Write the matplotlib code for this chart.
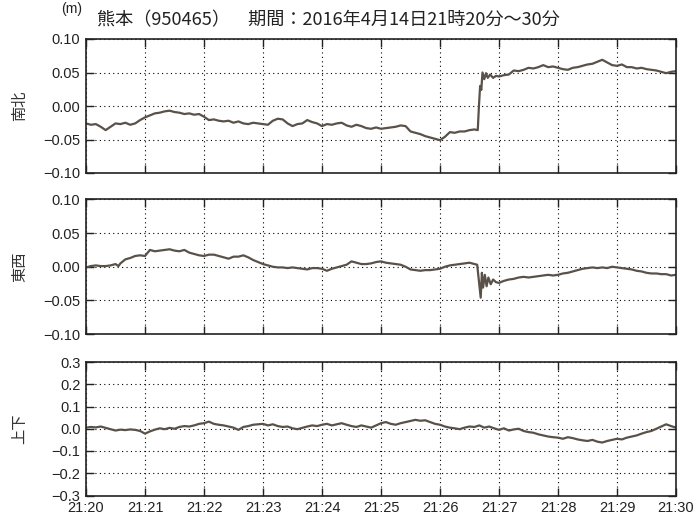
import matplotlib
matplotlib.use("Agg")
import matplotlib.pyplot as plt

plt.rcParams['font.family'] = ['Liberation Sans', 'DejaVu Sans']

# ---- data (minutes after 21:20, metres) ----
ns_t = [0, 0.083, 0.167, 0.25, 0.333, 0.417, 0.5, 0.583, 0.667, 0.75, 0.833, 0.917,
        1.0, 1.083, 1.167, 1.25, 1.333, 1.417, 1.5, 1.583, 1.667, 1.75, 1.833, 1.917,
        2.0, 2.083, 2.167, 2.25, 2.333, 2.417, 2.5, 2.583, 2.667, 2.75, 2.833, 2.917,
        3.0, 3.083, 3.167, 3.25, 3.333, 3.417, 3.5, 3.583, 3.667, 3.75, 3.833, 3.917,
        4.0, 4.083, 4.167, 4.25, 4.333, 4.417, 4.5, 4.583, 4.667, 4.75, 4.833, 4.917,
        5.0, 5.083, 5.167, 5.25, 5.333, 5.417, 5.5, 5.583, 5.667, 5.75, 5.833, 5.917,
        6.0, 6.083, 6.167, 6.25, 6.333, 6.417, 6.5, 6.583, 6.64,
        6.66, 6.68, 6.70, 6.72, 6.75, 6.78, 6.81, 6.85, 6.90, 6.95,
        7.0, 7.083, 7.167, 7.25, 7.333, 7.417, 7.5, 7.583, 7.667, 7.75, 7.833, 7.917,
        8.0, 8.083, 8.167, 8.25, 8.333, 8.417, 8.5, 8.583, 8.667, 8.75, 8.833, 8.917,
        9.0, 9.083, 9.167, 9.25, 9.333, 9.417, 9.5, 9.583, 9.667, 9.75, 9.833, 9.917, 10.0]
ns_v = [-0.026, -0.028, -0.027, -0.031, -0.036, -0.031, -0.026, -0.027, -0.025, -0.028, -0.026, -0.021,
        -0.017, -0.014, -0.011, -0.010, -0.008, -0.007, -0.009, -0.010, -0.012, -0.011, -0.013, -0.012,
        -0.016, -0.021, -0.020, -0.022, -0.023, -0.022, -0.025, -0.023, -0.026, -0.027, -0.025, -0.026,
        -0.027, -0.028, -0.022, -0.019, -0.020, -0.026, -0.030, -0.027, -0.026, -0.021, -0.024, -0.026,
        -0.030, -0.027, -0.028, -0.026, -0.025, -0.029, -0.031, -0.028, -0.030, -0.033, -0.034, -0.032,
        -0.034, -0.033, -0.032, -0.031, -0.029, -0.030, -0.038, -0.040, -0.042, -0.045, -0.047, -0.049,
        -0.051, -0.046, -0.039, -0.040, -0.038, -0.038, -0.036, -0.035, -0.036,
        0.000, 0.030, 0.024, 0.050, 0.040, 0.049, 0.042, 0.047, 0.042, 0.045,
        0.044, 0.046, 0.047, 0.053, 0.052, 0.054, 0.057, 0.056, 0.058, 0.061, 0.058, 0.059,
        0.057, 0.055, 0.054, 0.057, 0.058, 0.060, 0.062, 0.063, 0.066, 0.069, 0.065, 0.061,
        0.060, 0.062, 0.058, 0.058, 0.056, 0.057, 0.055, 0.054, 0.053, 0.051, 0.049, 0.051, 0.052]

ew_t = [0, 0.083, 0.167, 0.25, 0.333, 0.417, 0.5, 0.55, 0.583, 0.667, 0.75, 0.833, 0.917,
        1.0, 1.083, 1.167, 1.25, 1.333, 1.417, 1.5, 1.583, 1.667, 1.75, 1.833, 1.917,
        2.0, 2.083, 2.167, 2.25, 2.333, 2.417, 2.5, 2.583, 2.667, 2.75, 2.833, 2.917,
        3.0, 3.083, 3.167, 3.25, 3.333, 3.417, 3.5, 3.583, 3.667, 3.75, 3.833, 3.917,
        4.0, 4.083, 4.167, 4.25, 4.333, 4.417, 4.5, 4.583, 4.667, 4.75, 4.833, 4.917,
        5.0, 5.083, 5.167, 5.25, 5.333, 5.417, 5.5, 5.583, 5.667, 5.75, 5.833, 5.917,
        6.0, 6.083, 6.167, 6.25, 6.333, 6.417, 6.5, 6.583, 6.63,
        6.66, 6.69, 6.71, 6.73, 6.76, 6.79, 6.82, 6.86, 6.90, 6.95,
        7.0, 7.083, 7.167, 7.25, 7.333, 7.417, 7.5, 7.583, 7.667, 7.75, 7.833, 7.917,
        8.0, 8.083, 8.167, 8.25, 8.333, 8.417, 8.5, 8.583, 8.667, 8.75, 8.833, 8.917,
        9.0, 9.083, 9.167, 9.25, 9.333, 9.417, 9.5, 9.583, 9.667, 9.75, 9.833, 9.917, 10.0]
ew_v = [-0.001, 0.001, 0.002, 0.001, 0.001, 0.002, 0.004, 0.001, 0.005, 0.011, 0.013, 0.016, 0.017,
        0.016, 0.025, 0.023, 0.024, 0.025, 0.026, 0.024, 0.023, 0.025, 0.021, 0.019, 0.017,
        0.016, 0.018, 0.018, 0.016, 0.014, 0.012, 0.015, 0.015, 0.017, 0.014, 0.010, 0.007,
        0.004, 0.002, 0.000, -0.001, -0.001, -0.002, -0.001, -0.002, -0.003, -0.004, -0.002, -0.002,
        -0.003, -0.006, -0.003, -0.001, 0.001, 0.003, 0.008, 0.006, 0.004, 0.004, 0.005, 0.007,
        0.008, 0.006, 0.005, 0.004, 0.003, 0.000, -0.004, -0.005, -0.006, -0.005, -0.005, -0.004,
        -0.003, 0.000, 0.002, 0.003, 0.004, 0.005, 0.006, 0.004, 0.003,
        -0.021, -0.046, -0.009, -0.031, -0.012, -0.029, -0.016, -0.026, -0.019, -0.023,
        -0.024, -0.021, -0.019, -0.018, -0.016, -0.015, -0.016, -0.015, -0.014, -0.013, -0.012, -0.013,
        -0.012, -0.010, -0.009, -0.007, -0.005, -0.003, -0.002, -0.001, -0.002, -0.001, -0.002, 0.000,
        -0.001, -0.002, -0.003, -0.004, -0.006, -0.007, -0.009, -0.010, -0.010, -0.011, -0.011, -0.013, -0.012]

ud_t = [0, 0.083, 0.167, 0.25, 0.333, 0.417, 0.5, 0.583, 0.667, 0.75, 0.833, 0.917,
        1.0, 1.083, 1.167, 1.25, 1.333, 1.417, 1.5, 1.583, 1.667, 1.75, 1.833, 1.917,
        2.0, 2.083, 2.167, 2.25, 2.333, 2.417, 2.5, 2.583, 2.667, 2.75, 2.833, 2.917,
        3.0, 3.083, 3.167, 3.25, 3.333, 3.417, 3.5, 3.583, 3.667, 3.75, 3.833, 3.917,
        4.0, 4.083, 4.167, 4.25, 4.333, 4.417, 4.5, 4.583, 4.667, 4.75, 4.833, 4.917,
        5.0, 5.083, 5.167, 5.25, 5.333, 5.417, 5.5, 5.583, 5.667, 5.75, 5.833, 5.917,
        6.0, 6.083, 6.167, 6.25, 6.333, 6.417, 6.5, 6.583, 6.667, 6.75, 6.833, 6.917,
        7.0, 7.083, 7.167, 7.25, 7.333, 7.417, 7.5, 7.583, 7.667, 7.75, 7.833, 7.917,
        8.0, 8.083, 8.167, 8.25, 8.333, 8.417, 8.5, 8.583, 8.667, 8.75, 8.833, 8.917,
        9.0, 9.083, 9.167, 9.25, 9.333, 9.417, 9.5, 9.583, 9.667, 9.75, 9.833, 9.917, 10.0]
ud_v = [0.005, 0.008, 0.006, 0.010, 0.004, -0.002, -0.008, -0.004, -0.006, -0.003, -0.005, -0.010,
        -0.022, -0.012, -0.004, 0.002, -0.002, 0.004, 0.000, 0.008, 0.012, 0.010, 0.015, 0.022,
        0.025, 0.032, 0.022, 0.018, 0.015, 0.010, 0.005, -0.005, 0.008, 0.012, 0.018, 0.020,
        0.022, 0.015, 0.020, 0.012, 0.008, 0.010, 0.002, -0.002, 0.004, 0.010, 0.015, 0.012,
        0.018, 0.022, 0.015, 0.020, 0.025, 0.018, 0.012, 0.008, 0.015, 0.010, 0.005, 0.015,
        0.025, 0.030, 0.022, 0.018, 0.025, 0.030, 0.035, 0.040, 0.036, 0.038, 0.030, 0.022,
        0.018, 0.010, 0.005, 0.002, -0.002, 0.005, 0.010, 0.008, 0.015, 0.005, 0.010, 0.002,
        -0.005, 0.002, -0.008, -0.003, 0.000, -0.010, -0.015, -0.018, -0.025, -0.030, -0.035, -0.038,
        -0.040, -0.045, -0.038, -0.042, -0.048, -0.052, -0.055, -0.050, -0.058, -0.062, -0.055, -0.050,
        -0.045, -0.048, -0.040, -0.035, -0.030, -0.022, -0.015, -0.010, 0.000, 0.010, 0.020, 0.012, 0.005]

component_labels = ['南北', '東西', '上下']
x_tick_labels = ['21:20', '21:21', '21:22', '21:23', '21:24', '21:25',
                 '21:26', '21:27', '21:28', '21:29', '21:30']
ticks_small = [-0.10, -0.05, 0.00, 0.05, 0.10]
ticks_large = [-0.3, -0.2, -0.1, 0.0, 0.1, 0.2, 0.3]
title_text = '熊本（950465）　期間：2016年4月14日21時20分～30分'
unit_text = '(m)'

# ---- figure ----
W, H = 696, 523
fig = plt.figure(figsize=(W / 100, H / 100), dpi=100)

def frac_box(left, top, right, bottom):
    return [left / W, 1 - bottom / H, (right - left) / W, (bottom - top) / H]

boxes = [frac_box(86, 39, 676, 173), frac_box(86, 199.5, 676, 334), frac_box(86, 362, 676, 495.5)]
series = [(ns_t, ns_v), (ew_t, ew_v), (ud_t, ud_v)]
line_color = '#5a5149'
cjk = ['Noto Sans CJK JP', 'DejaVu Sans']

for i, (box, (t, v)) in enumerate(zip(boxes, series)):
    ax = fig.add_axes(box)
    ax.plot(t, v, color=line_color, lw=1.6, solid_joinstyle='round')
    ax.set_xlim(0, 10)
    ax.set_xticks(range(11))
    if i < 2:
        ax.set_ylim(-0.10, 0.10)
        ax.set_yticks(ticks_small)
        ax.set_yticklabels(['−0.10', '−0.05', '0.00', '0.05', '0.10'])
    else:
        ax.set_ylim(-0.3, 0.3)
        ax.set_yticks(ticks_large)
        ax.set_yticklabels(['−0.3', '−0.2', '−0.1', '0.0', '0.1', '0.2', '0.3'])
    if i == 2:
        ax.set_xticklabels(x_tick_labels)
    else:
        ax.set_xticklabels([])
    ax.grid(True, color='black', linestyle=(0, (1, 3)), linewidth=0.8)
    ax.tick_params(direction='in', length=6, width=1.0, top=True, right=True,
                   labelsize=10.5, colors='#222222', pad=4)
    ax.tick_params(axis='x', pad=4)
    for s in ax.spines.values():
        s.set_linewidth(1.2)
        s.set_color('#222222')
    ax.set_ylabel(component_labels[i], family=cjk, fontsize=11, color='#333333')
    ax.yaxis.set_label_coords(-0.098, 0.5)

fig.text(97 / W, 1 - 20 / H, title_text, family=cjk, fontsize=13.1,
         ha='left', va='center', color='#222222')
fig.text(72 / W, 1 - 9 / H, unit_text, fontsize=10, ha='center', va='center', color='#222222')

fig.savefig('out.png', dpi=100)
